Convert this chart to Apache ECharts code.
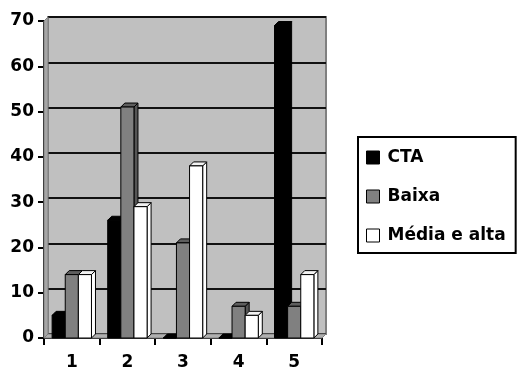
<!DOCTYPE html>
<html>
<head>
<meta charset="utf-8">
<script src="https://cdn.jsdelivr.net/npm/echarts@6/dist/echarts.min.js"></script>
<style>
  html, body { margin: 0; padding: 0; background: #fff; }
  #chart { width: 517px; height: 369px; }
</style>
</head>
<body>
<div id="chart"></div>
<script>
// Categories and series values
const categories = ['1', '2', '3', '4', '5'];
const seriesNames = ['CTA', 'Baixa', 'Média e alta'];
const cta = [5, 26, 0, 0, 69];
const baixa = [14, 51, 21, 7, 7];
const mediaAlta = [14, 29, 38, 5, 14];
const yTicks = [0, 10, 20, 30, 40, 50, 60, 70];

const FONT = 'DejaVu Sans';
const DEPTH = 4;

// Face colours per series: front, top, side
const faces = [
  { front: '#000000', top: '#000000', side: '#000000' },
  { front: '#808080', top: '#5e5e5e', side: '#555555' },
  { front: '#ffffff', top: '#f2f2f2', side: '#ffffff' }
];

// Pseudo-3D column: front rectangle, top and right faces
function columnRenderer(idx) {
  return function (params, api) {
    const cat = api.value(0);
    const val = api.value(1);
    const base = api.coord([cat, 0]);
    const top = api.coord([cat, val]);
    const band = api.size([1, 0])[0];
    const w = band * 0.236;
    const x0 = base[0] + (idx - 1.5) * w;
    const x1 = x0 + w;
    const ty = top[1];
    const by = base[1];
    const f = faces[idx];
    const stroke = { stroke: '#000', lineWidth: 1 };
    return {
      type: 'group',
      children: [
        {
          type: 'polygon',
          shape: { points: [[x1, ty], [x1 + DEPTH, ty - DEPTH], [x1 + DEPTH, by - DEPTH], [x1, by]] },
          style: Object.assign({ fill: f.side }, stroke)
        },
        {
          type: 'polygon',
          shape: { points: [[x0, ty], [x0 + DEPTH, ty - DEPTH], [x1 + DEPTH, ty - DEPTH], [x1, ty]] },
          style: Object.assign({ fill: f.top }, stroke)
        },
        {
          type: 'rect',
          shape: { x: x0, y: ty, width: w, height: by - ty },
          style: Object.assign({ fill: f.front }, stroke)
        }
      ]
    };
  };
}

// Left side wall and floor joining the front axes to the back wall
function wallRenderer(params, api) {
  const cs = params.coordSys;
  const l = cs.x, t = cs.y, r = cs.x + cs.width, b = cs.y + cs.height;
  return {
    type: 'group',
    children: [
      {
        type: 'polygon',
        shape: { points: [[l, t], [l + DEPTH, t - DEPTH], [l + DEPTH, b - DEPTH], [l, b]] },
        style: { fill: '#a6a6a6', stroke: '#808080', lineWidth: 1 }
      },
      {
        type: 'polygon',
        shape: { points: [[l, b], [l + DEPTH, b - DEPTH], [r + DEPTH, b - DEPTH], [r, b]] },
        style: { fill: '#b0b0b0', stroke: '#808080', lineWidth: 1 }
      }
    ]
  };
}

const valueSets = [cta, baixa, mediaAlta];
const seriesList = [
  {
    type: 'custom',
    name: 'walls',
    xAxisIndex: 1,
    yAxisIndex: 1,
    z: 1,
    silent: true,
    renderItem: wallRenderer,
    data: [[0, 0]]
  }
];
valueSets.forEach(function (vals, i) {
  seriesList.push({
    type: 'custom',
    name: seriesNames[i],
    xAxisIndex: 1,
    yAxisIndex: 1,
    z: 3,
    itemStyle: { color: faces[i].front },
    renderItem: columnRenderer(i),
    encode: { x: 0, y: 1 },
    data: vals.map(function (v, k) { return [k, v]; })
  });
});

const chart = echarts.init(document.getElementById('chart'), null, { renderer: 'canvas' });
chart.setOption({
  animation: false,
  backgroundColor: '#ffffff',
  textStyle: { fontFamily: FONT },
  grid: [
    // back wall
    {
      left: 48, right: 191, top: 17, bottom: 35,
      outerBoundsMode: 'none', containLabel: false,
      show: true, backgroundColor: '#c0c0c0',
      borderColor: '#808080', borderWidth: 2
    },
    // front axes
    { left: 44, right: 195, top: 21, bottom: 31, outerBoundsMode: 'none', containLabel: false }
  ],
  xAxis: [
    {
      gridIndex: 0, type: 'category', data: categories,
      axisLine: { show: false }, axisTick: { show: false }, axisLabel: { show: false },
      splitLine: { show: false }
    },
    {
      gridIndex: 1, type: 'category', data: categories,
      axisLine: { show: true, lineStyle: { color: '#000', width: 2 } },
      axisTick: { show: true, length: 7, interval: 0, lineStyle: { color: '#000', width: 2 } },
      axisLabel: {
        show: true, interval: 0, margin: 16,
        color: '#000', fontFamily: FONT, fontWeight: 'bold', fontSize: 17
      },
      splitLine: { show: false }
    }
  ],
  yAxis: [
    {
      gridIndex: 0, type: 'value', min: 0, max: 70, interval: 10,
      axisLine: { show: false }, axisTick: { show: false }, axisLabel: { show: false },
      splitLine: { show: true, lineStyle: { color: '#111', width: 2 } }
    },
    {
      gridIndex: 1, type: 'value', min: yTicks[0], max: yTicks[yTicks.length - 1], interval: 10,
      axisLine: { show: true, lineStyle: { color: '#000', width: 2 } },
      axisTick: { show: true, length: 6, lineStyle: { color: '#000', width: 2 } },
      axisLabel: {
        show: true, margin: 10,
        color: '#000', fontFamily: FONT, fontWeight: 'bold', fontSize: 17
      },
      splitLine: { show: false }
    }
  ],
  legend: {
    orient: 'vertical',
    left: 358,
    top: 137,
    data: seriesNames.map(function (n) { return { name: n, icon: 'rect' }; }),
    itemWidth: 13,
    itemHeight: 13,
    itemGap: 22,
    padding: [12, 10, 9, 8],
    borderColor: '#000',
    borderWidth: 2,
    backgroundColor: '#ffffff',
    itemStyle: { borderColor: '#000', borderWidth: 1 },
    textStyle: {
      color: '#000', fontFamily: FONT, fontWeight: 'bold', fontSize: 17,
      lineHeight: 17, padding: [0, 0, 0, 3]
    }
  },
  series: seriesList
});
</script>
</body>
</html>
